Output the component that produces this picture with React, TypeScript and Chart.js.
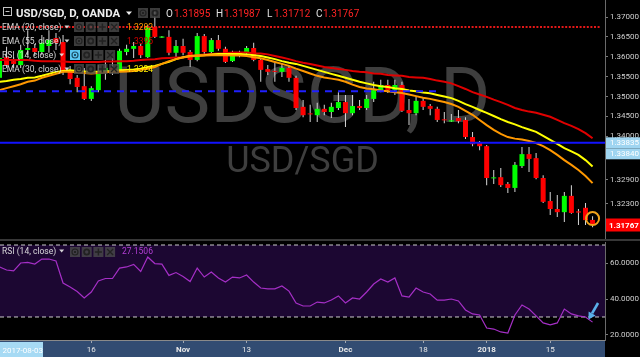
import React, { useEffect, useRef } from 'react';
import { Chart, registerables } from 'chart.js';
Chart.register(...registerables);

// ---------- data ----------
const OPEN = [
  1.3547, 1.3599, 1.3589, 1.3579, 1.3617, 1.3622, 1.3612, 1.3627, 1.3647, 1.3637,
  1.3564, 1.3547, 1.3526, 1.3494, 1.3516, 1.3562, 1.3572, 1.3567, 1.3612, 1.3620,
  1.3627, 1.3599, 1.3675, 1.3648, 1.3650, 1.3610, 1.3627, 1.3612, 1.3592, 1.3652,
  1.3612, 1.3642, 1.3620, 1.3589, 1.3610, 1.3610, 1.3622, 1.3592, 1.3569, 1.3564,
  1.3562, 1.3572, 1.3547, 1.3474, 1.3457, 1.3453, 1.3469, 1.3461, 1.3471, 1.3486,
  1.3458, 1.3476, 1.3471, 1.3494, 1.3516, 1.3529, 1.3516, 1.3529, 1.3466, 1.3458,
  1.3489, 1.3476, 1.3469, 1.3442, 1.3437, 1.3446, 1.3441, 1.3398, 1.3383, 1.3375,
  1.3294, 1.3297, 1.3280, 1.3270, 1.3325, 1.3355, 1.3345, 1.3295, 1.3237, 1.3217,
  1.3209, 1.3250, 1.3211, 1.3220, 1.31895,
];
const HIGH = [
  1.3604, 1.3625, 1.3599, 1.3630, 1.3667, 1.3632, 1.3655, 1.3667, 1.3660, 1.3655,
  1.3577, 1.3554, 1.3572, 1.3526, 1.3579, 1.3592, 1.3597, 1.3620, 1.3630, 1.3637,
  1.3632, 1.3680, 1.3720, 1.3652, 1.3667, 1.3642, 1.3645, 1.3617, 1.3660, 1.3657,
  1.3647, 1.3655, 1.3625, 1.3615, 1.3615, 1.3627, 1.3635, 1.3597, 1.3579, 1.3584,
  1.3584, 1.3577, 1.3552, 1.3491, 1.3479, 1.3484, 1.3479, 1.3484, 1.3511, 1.3504,
  1.3504, 1.3491, 1.3504, 1.3537, 1.3542, 1.3542, 1.3542, 1.3537, 1.3494, 1.3499,
  1.3499, 1.3481, 1.3474, 1.3461, 1.3456, 1.3466, 1.3448, 1.3411, 1.3388, 1.3378,
  1.3315, 1.3320, 1.3285, 1.3335, 1.3373, 1.3373, 1.3358, 1.3302, 1.3260, 1.3252,
  1.3260, 1.3277, 1.3217, 1.3232, 1.31987,
];
const LOW = [
  1.3542, 1.3572, 1.3572, 1.3572, 1.3604, 1.3602, 1.3604, 1.3610, 1.3617, 1.3554,
  1.3531, 1.3511, 1.3491, 1.3489, 1.3511, 1.3542, 1.3554, 1.3562, 1.3604, 1.3597,
  1.3597, 1.3597, 1.3647, 1.3647, 1.3604, 1.3599, 1.3604, 1.3574, 1.3589, 1.3607,
  1.3607, 1.3615, 1.3584, 1.3587, 1.3599, 1.3604, 1.3589, 1.3537, 1.3554, 1.3537,
  1.3549, 1.3537, 1.3466, 1.3448, 1.3436, 1.3436, 1.3453, 1.3446, 1.3466, 1.3423,
  1.3453, 1.3466, 1.3466, 1.3486, 1.3511, 1.3509, 1.3504, 1.3461, 1.3428, 1.3453,
  1.3466, 1.3453, 1.3436, 1.3433, 1.3436, 1.3433, 1.3393, 1.3375, 1.3365, 1.3277,
  1.3280, 1.3272, 1.3257, 1.3260, 1.3320, 1.3310, 1.3292, 1.3232, 1.3202, 1.3197,
  1.3184, 1.3205, 1.3177, 1.3177, 1.31712,
];
const CLOSE = [
  1.3597, 1.3579, 1.3582, 1.3617, 1.3622, 1.3612, 1.3635, 1.3642, 1.3635, 1.3562,
  1.3544, 1.3524, 1.3494, 1.3521, 1.3562, 1.3572, 1.3567, 1.3615, 1.3620, 1.3627,
  1.3604, 1.3675, 1.3650, 1.3651, 1.3610, 1.3627, 1.3610, 1.3592, 1.3652, 1.3612,
  1.3642, 1.3620, 1.3587, 1.3610, 1.3604, 1.3622, 1.3592, 1.3567, 1.3562, 1.3562,
  1.3572, 1.3547, 1.3471, 1.3453, 1.3455, 1.3469, 1.3461, 1.3474, 1.3486, 1.3458,
  1.3476, 1.3471, 1.3494, 1.3516, 1.3529, 1.3516, 1.3529, 1.3464, 1.3458, 1.3489,
  1.3474, 1.3469, 1.3441, 1.3440, 1.3440, 1.3438, 1.3398, 1.3380, 1.3375, 1.3295,
  1.3296, 1.3277, 1.3270, 1.3328, 1.3355, 1.3343, 1.3295, 1.3235, 1.3217, 1.3209,
  1.3250, 1.3207, 1.3208, 1.3189, 1.31767,
];
const EMA20 = [
  1.3516, 1.3521, 1.3526, 1.3531, 1.3537, 1.3540, 1.3547, 1.3552, 1.3557, 1.3562,
  1.3562, 1.3561, 1.3559, 1.3558, 1.3559, 1.3561, 1.3562, 1.3562, 1.3563, 1.3564,
  1.3567, 1.3570, 1.3574, 1.3582, 1.3589, 1.3594, 1.3598, 1.3601, 1.3602, 1.3603,
  1.3604, 1.3604, 1.3604, 1.3603, 1.3603, 1.3602, 1.3599, 1.3596, 1.3592, 1.3587,
  1.3582, 1.3577, 1.3570, 1.3564, 1.3558, 1.3552, 1.3548, 1.3545, 1.3542, 1.3537,
  1.3530, 1.3524, 1.3520, 1.3518, 1.3515, 1.3513, 1.3511, 1.3509, 1.3505, 1.3501,
  1.3497, 1.3494, 1.3490, 1.3486, 1.3481, 1.3474, 1.3464, 1.3454, 1.3441, 1.3428,
  1.3416, 1.3406, 1.3398, 1.3394, 1.3392, 1.3388, 1.3383, 1.3375, 1.3365, 1.3353,
  1.3340, 1.3328, 1.3315, 1.3300, 1.3282,
];
const EMA30 = [
  1.3537, 1.3539, 1.3542, 1.3544, 1.3547, 1.3548, 1.3552, 1.3557, 1.3562, 1.3564,
  1.3566, 1.3564, 1.3563, 1.3562, 1.3562, 1.3563, 1.3564, 1.3566, 1.3567, 1.3568,
  1.3570, 1.3574, 1.3577, 1.3582, 1.3587, 1.3594, 1.3599, 1.3602, 1.3603, 1.3604,
  1.3606, 1.3607, 1.3607, 1.3607, 1.3607, 1.3606, 1.3604, 1.3602, 1.3598, 1.3594,
  1.3589, 1.3585, 1.3582, 1.3577, 1.3572, 1.3567, 1.3562, 1.3557, 1.3552, 1.3547,
  1.3542, 1.3537, 1.3533, 1.3529, 1.3526, 1.3524, 1.3521, 1.3519, 1.3515, 1.3513,
  1.3510, 1.3508, 1.3504, 1.3500, 1.3496, 1.3489, 1.3481, 1.3474, 1.3466, 1.3459,
  1.3451, 1.3443, 1.3436, 1.3430, 1.3423, 1.3417, 1.3411, 1.3401, 1.3391, 1.3381,
  1.3370, 1.3362, 1.3353, 1.3340, 1.3324,
];
const EMA55 = [
  1.3592, 1.3592, 1.3592, 1.3592, 1.3592, 1.3590, 1.3589, 1.3589, 1.3589, 1.3588,
  1.3587, 1.3587, 1.3587, 1.3587, 1.3587, 1.3588, 1.3588, 1.3589, 1.3589, 1.3590,
  1.3592, 1.3593, 1.3594, 1.3596, 1.3597, 1.3598, 1.3599, 1.3602, 1.3604, 1.3606,
  1.3607, 1.3608, 1.3609, 1.3611, 1.3611, 1.3611, 1.3609, 1.3608, 1.3606, 1.3602,
  1.3598, 1.3594, 1.3589, 1.3585, 1.3582, 1.3578, 1.3574, 1.3572, 1.3569, 1.3567,
  1.3564, 1.3562, 1.3561, 1.3558, 1.3557, 1.3554, 1.3553, 1.3552, 1.3549, 1.3548,
  1.3547, 1.3544, 1.3540, 1.3537, 1.3533, 1.3526, 1.3519, 1.3511, 1.3505, 1.3499,
  1.3492, 1.3486, 1.3479, 1.3471, 1.3466, 1.3462, 1.3459, 1.3454, 1.3449, 1.3441,
  1.3433, 1.3426, 1.3418, 1.3408, 1.3395,
];
const RSI14 = [
  57.8, 56.1, 55.6, 60.0, 60.3, 59.4, 62.2, 62.2, 61.1, 48.9,
  46.7, 44.2, 40.6, 43.9, 50.0, 51.4, 51.4, 57.2, 57.8, 59.2,
  55.3, 63.3, 59.7, 59.4, 53.1, 54.7, 52.5, 49.7, 57.2, 52.2,
  55.0, 51.7, 49.4, 52.2, 51.7, 53.3, 49.4, 46.1, 45.6, 45.6,
  47.2, 44.4, 37.8, 36.1, 36.1, 38.3, 37.8, 39.4, 41.7, 37.8,
  40.6, 40.0, 43.9, 48.3, 51.1, 49.4, 51.7, 41.7, 41.1, 46.1,
  43.9, 42.8, 39.4, 39.4, 40.0, 38.9, 33.9, 31.7, 31.1, 23.9,
  23.3, 21.7, 21.1, 31.1, 36.7, 34.4, 30.6, 26.7, 25.6, 26.7,
  34.4, 31.7, 30.6, 30.0, 27.1506,
];
const PRICE_TICKS = [1.37, 1.365, 1.36, 1.355, 1.35, 1.345, 1.34, 1.329, 1.323];
const RSI_TICKS = [20, 40, 60];
const RSI_BANDS = [70, 30];
const TIME_TICK_INDEX = [13, 26, 35, 49, 60, 69, 78];
const TIME_TICK_LABELS = ['16', 'Nov', '13', 'Dec', '18', '2018', '15'];
const TIME_TICK_BOLD = [false, true, false, true, false, true, false];
const CURSOR_DATE = '2017-08-03';
const RED_DOTTED_LEVEL = 1.3675;
const BLUE_DASHED_LEVEL = 1.3513;
const BLUE_DASHED_END = 62;
const BLUE_LINE_LEVEL = 1.33835;
const BLUE_LABELS = ['1.33835', '1.33840'];
const MARK_INDEX = 84;
const MARK_LEVEL = 1.3193;

// ---------- geometry of the scales ----------
const X_MIN = 0.07;
const X_MAX = 85.76;
const P_MIN = 1.3144;
const P_MAX = 1.37428;
const R_MIN = 17.22;
const R_MAX = 71.67;
const FONT = 'Roboto, "Liberation Sans", Arial, sans-serif';

const IDX = OPEN.map((_, i) => i);
const last = OPEN.length - 1;

function tri(ctx: CanvasRenderingContext2D, x: number, y: number, w: number, h: number, c: string) {
  ctx.fillStyle = c;
  ctx.beginPath();
  ctx.moveTo(x, y);
  ctx.lineTo(x + w, y);
  ctx.lineTo(x + w / 2, y + h);
  ctx.closePath();
  ctx.fill();
}

function iconBox(ctx: CanvasRenderingContext2D, x: number, y: number, kind: string, hl: boolean) {
  ctx.fillStyle = hl ? '#5cc6f2' : 'rgba(75,75,75,0.8)';
  ctx.fillRect(x, y, 10, 10);
  const c = hl ? '#1d5068' : '#222222';
  ctx.strokeStyle = c;
  ctx.fillStyle = c;
  ctx.lineWidth = 1.2;
  const cx = x + 5, cy = y + 5;
  ctx.beginPath();
  if (kind === 'eye') {
    ctx.arc(cx, cy, 3, 0, Math.PI * 2);
    ctx.stroke();
    ctx.fillRect(cx - 1, cy - 1, 2, 2);
  } else if (kind === 'gear') {
    ctx.lineWidth = 1.8;
    ctx.arc(cx, cy, 2.6, 0, Math.PI * 2);
    ctx.stroke();
  } else if (kind === 'plus') {
    ctx.lineWidth = 1.5;
    ctx.moveTo(cx - 3.5, cy); ctx.lineTo(cx + 3.5, cy);
    ctx.moveTo(cx, cy - 3.5); ctx.lineTo(cx, cy + 3.5);
    ctx.stroke();
  } else {
    ctx.lineWidth = 1.3;
    ctx.moveTo(cx - 3, cy - 3); ctx.lineTo(cx + 3, cy + 3);
    ctx.moveTo(cx + 3, cy - 3); ctx.lineTo(cx - 3, cy + 3);
    ctx.stroke();
  }
}

const noPad = (s: any) => {
  s.paddingTop = 0;
  s.paddingBottom = 0;
  s.paddingLeft = 0;
  s.paddingRight = 0;
};

const mainOverlay = {
  id: 'mainOverlay',
  beforeDatasetsDraw(chart: any) {
    const ctx = chart.ctx as CanvasRenderingContext2D;
    const a = chart.chartArea;
    const cx = (a.left + a.right) / 2;
    ctx.save();
    ctx.fillStyle = '#3e3e3e';
    ctx.textAlign = 'center';
    ctx.textBaseline = 'alphabetic';
    ctx.font = `77px ${FONT}`;
    ctx.fillText('USDSGD, D', cx, 122);
    ctx.font = `36px ${FONT}`;
    ctx.fillText('USD/SGD', cx, 172);
    ctx.restore();
  },
  afterDraw(chart: any) {
    const ctx = chart.ctx as CanvasRenderingContext2D;
    const ys = chart.scales.y;
    ctx.save();
    ctx.textBaseline = 'alphabetic';
    ctx.textAlign = 'left';
    // header
    ctx.strokeStyle = '#c4c4c4';
    ctx.lineWidth = 1;
    ctx.strokeRect(3.5, 7.5, 8, 8);
    ctx.beginPath(); ctx.moveTo(5.5, 11.5); ctx.lineTo(9.5, 11.5); ctx.stroke();
    ctx.font = `bold 11.4px ${FONT}`;
    ctx.fillStyle = '#ededed';
    ctx.fillText('USD/SGD, D, OANDA', 16, 17);
    tri(ctx, 126, 11.5, 6, 3.5, '#ededed');
    iconBox(ctx, 138, 8, 'eye', false);
    iconBox(ctx, 150, 8, 'gear', false);
    ctx.font = `10px ${FONT}`;
    const ohlc: [string, number, number, number][] = [
      ['O', 166, 174, OPEN[last]], ['H', 216, 224, HIGH[last]],
      ['L', 267, 274, LOW[last]], ['C', 316, 323, CLOSE[last]],
    ];
    ohlc.forEach(([k, xk, xv, v]) => {
      ctx.fillStyle = '#e2e2e2';
      ctx.fillText(k, xk, 17);
      ctx.fillStyle = '#ff2424';
      ctx.fillText(v.toFixed(5), xv, 17);
    });
    // study legend rows
    const rows = [
      { label: 'EMA (20, close)', value: EMA20[last].toFixed(4), color: '#ff9a00', x0: 74, hl: false },
      { label: 'EMA (55, close)', value: EMA55[last].toFixed(4), color: '#d80000', x0: 74, hl: false },
      { label: 'RSI (14, close)', value: '', color: '#fff', x0: 70, hl: true },
      { label: 'EMA (30, close)', value: EMA30[last].toFixed(4), color: '#ffee00', x0: 74, hl: false },
    ];
    rows.forEach((r, k) => {
      const base = 30 + k * 14;
      ctx.font = `8.5px ${FONT}`;
      ctx.fillStyle = 'rgba(228,228,228,0.92)';
      ctx.fillText(r.label, 2, base);
      const w = ctx.measureText(r.label).width;
      tri(ctx, 2 + w + 3, base - 4.5, 5, 3, 'rgba(228,228,228,0.92)');
      ['eye', 'gear', 'plus', 'x'].forEach((kind, j) => {
        iconBox(ctx, r.x0 + j * 11.7, base - 8, kind, r.hl && j === 0);
      });
      if (r.value) {
        ctx.font = `8.5px ${FONT}`;
        ctx.fillStyle = r.color;
        ctx.fillText(r.value, 127, base);
      }
    });
    // price-axis labels
    const yb = ys.getPixelForValue(BLUE_LINE_LEVEL);
    ctx.font = `8px ${FONT}`;
    ctx.textBaseline = 'middle';
    BLUE_LABELS.forEach((t, k) => {
      const top = yb - 5.5 + k * 11;
      ctx.fillStyle = '#9fd5f1';
      ctx.fillRect(606, top, 34, 11);
      ctx.fillStyle = '#ffffff';
      ctx.fillText(t, 610, top + 5.7);
    });
    const yl = ys.getPixelForValue(CLOSE[last]);
    ctx.fillStyle = '#ff0000';
    ctx.fillRect(606, yl - 6.5, 34, 13);
    ctx.fillStyle = '#ffffff';
    ctx.font = `bold 8px ${FONT}`;
    ctx.fillText(CLOSE[last].toFixed(5), 609, yl + 0.5);
    ctx.restore();
  },
};

const rsiOverlay = {
  id: 'rsiOverlay',
  beforeDraw(chart: any) {
    const ctx = chart.ctx as CanvasRenderingContext2D;
    const a = chart.chartArea;
    ctx.save();
    ctx.fillStyle = '#373737';
    ctx.fillRect(0, 0, chart.width, 2);
    ctx.fillStyle = '#324c72';
    ctx.fillRect(0, a.bottom, a.right, chart.height - a.bottom);
    ctx.restore();
  },
  beforeDatasetsDraw(chart: any) {
    const ctx = chart.ctx as CanvasRenderingContext2D;
    const a = chart.chartArea;
    const y = chart.scales.y;
    const y1 = y.getPixelForValue(RSI_BANDS[0]);
    const y2 = y.getPixelForValue(RSI_BANDS[1]);
    ctx.save();
    ctx.fillStyle = '#1c0732';
    ctx.fillRect(a.left, y1, a.right - a.left, y2 - y1);
    ctx.restore();
  },
  afterDraw(chart: any) {
    const ctx = chart.ctx as CanvasRenderingContext2D;
    const a = chart.chartArea;
    ctx.save();
    ctx.textAlign = 'left';
    ctx.textBaseline = 'alphabetic';
    ctx.font = `8.5px ${FONT}`;
    ctx.fillStyle = 'rgba(228,228,228,0.92)';
    const lbl = 'RSI (14, close)';
    ctx.fillText(lbl, 2, 15);
    const w = ctx.measureText(lbl).width;
    tri(ctx, 2 + w + 3, 10.5, 5, 3, 'rgba(228,228,228,0.92)');
    ['eye', 'gear', 'plus', 'x'].forEach((kind, j) => iconBox(ctx, 70 + j * 11.7, 8, kind, false));
    ctx.fillStyle = '#b43fd6';
    ctx.fillText(RSI14[last].toFixed(4), 122, 15);
    // cursor date box on time axis
    ctx.fillStyle = '#a6daf4';
    ctx.fillRect(0, a.bottom + 2, 43, chart.height - a.bottom - 2);
    ctx.fillStyle = '#ffffff';
    ctx.font = `8px ${FONT}`;
    ctx.fillText(CURSOR_DATE, 2.5, a.bottom + 12.5);
    // arrow annotation
    const tx = chart.scales.x.getPixelForValue(MARK_INDEX) - 4;
    const ty = chart.scales.y.getPixelForValue(RSI_BANDS[1]) + 2.5;
    const sx = tx + 9.5, sy = ty - 16.5;
    const len = Math.hypot(tx - sx, ty - sy);
    const dx = (tx - sx) / len, dy = (ty - sy) / len;
    const bx = tx - dx * 7, by = ty - dy * 7;
    ctx.strokeStyle = '#5ab0ea';
    ctx.fillStyle = '#5ab0ea';
    ctx.lineWidth = 2.6;
    ctx.beginPath(); ctx.moveTo(sx, sy); ctx.lineTo(bx, by); ctx.stroke();
    ctx.beginPath();
    ctx.moveTo(tx, ty);
    ctx.lineTo(bx - dy * 4, by + dx * 4);
    ctx.lineTo(bx + dy * 4, by - dx * 4);
    ctx.closePath();
    ctx.fill();
    ctx.restore();
  },
};

function mainConfig(): any {
  const bodyColors = IDX.map((i) => (CLOSE[i] >= OPEN[i] ? '#00ff00' : '#ff0000'));
  const pts = (arr: number[]) => arr.map((v, i) => ({ x: i, y: v }));
  return {
    type: 'bar',
    data: {
      datasets: [
        { type: 'bar', data: IDX.map((i) => ({ x: i, y: [LOW[i], HIGH[i]] })), backgroundColor: '#d6d6d6', maxBarThickness: 1, grouped: false, borderWidth: 0, order: 10 },
        { type: 'bar', data: IDX.map((i) => ({ x: i, y: [OPEN[i], CLOSE[i]] })), backgroundColor: bodyColors, maxBarThickness: 5, grouped: false, minBarLength: 1, borderWidth: 0, order: 9 },
        { type: 'line', data: pts(EMA55), borderColor: '#e00000', borderWidth: 2, pointRadius: 0, tension: 0, order: 8 },
        { type: 'line', data: pts(EMA30), borderColor: '#ffff00', borderWidth: 2, pointRadius: 0, tension: 0, order: 7 },
        { type: 'line', data: pts(EMA20), borderColor: '#ff9800', borderWidth: 2, pointRadius: 0, tension: 0, order: 6 },
        { type: 'line', data: [{ x: X_MIN, y: RED_DOTTED_LEVEL }, { x: 85.06, y: RED_DOTTED_LEVEL }], borderColor: '#e31818', borderWidth: 2, borderDash: [2, 1.6], pointRadius: 0, order: 5 },
        { type: 'line', data: [{ x: X_MIN, y: BLUE_DASHED_LEVEL }, { x: BLUE_DASHED_END, y: BLUE_DASHED_LEVEL }], borderColor: '#2020ff', borderWidth: 2, borderDash: [7, 6], pointRadius: 0, order: 4 },
        { type: 'line', data: [{ x: X_MIN, y: BLUE_LINE_LEVEL }, { x: X_MAX, y: BLUE_LINE_LEVEL }], borderColor: '#1212ff', borderWidth: 2, pointRadius: 0, order: 3 },
        { type: 'line', data: [{ x: MARK_INDEX, y: MARK_LEVEL }], showLine: false, pointRadius: 6.5, pointBorderWidth: 2, pointBorderColor: '#f2a51c', pointBackgroundColor: 'rgba(0,0,0,0)', order: 1 },
      ],
    },
    options: {
      responsive: false,
      animation: false,
      devicePixelRatio: 1,
      events: [],
      layout: { autoPadding: false, padding: { left: 0, right: 0, top: 0, bottom: 1 } },
      plugins: { legend: { display: false }, tooltip: { enabled: false } },
      scales: {
        x: { type: 'linear', min: X_MIN, max: X_MAX, offset: false, display: false, grid: { offset: false }, afterFit: noPad },
        y: {
          type: 'linear', position: 'right', min: P_MIN, max: P_MAX, beginAtZero: false,
          afterFit: (s: any) => { s.width = 35; noPad(s); },
          afterBuildTicks: (s: any) => { s.ticks = PRICE_TICKS.map((v) => ({ value: v })); },
          ticks: { callback: (v: any) => Number(v).toFixed(5), color: '#cfcfcf', font: { family: FONT, size: 8 }, padding: 2, autoSkip: false },
          grid: { drawOnChartArea: false, drawTicks: true, tickLength: 3, color: '#7a7a7a' },
          border: { display: true, color: '#6a6a6a', width: 1 },
        },
      },
    },
    plugins: [mainOverlay],
  };
}

function rsiConfig(): any {
  const flat = (v: number) => [{ x: X_MIN, y: v }, { x: X_MAX, y: v }];
  return {
    type: 'line',
    data: {
      datasets: [
        { data: RSI14.map((v, i) => ({ x: i, y: v })), borderColor: '#a52fc6', borderWidth: 1.2, pointRadius: 0, tension: 0, order: 1 },
        { data: flat(RSI_BANDS[0]), borderColor: 'rgba(225,225,225,0.9)', borderWidth: 1, borderDash: [4, 3], pointRadius: 0, order: 2 },
        { data: flat(RSI_BANDS[1]), borderColor: 'rgba(225,225,225,0.9)', borderWidth: 1, borderDash: [4, 3], pointRadius: 0, order: 3 },
      ],
    },
    options: {
      responsive: false,
      animation: false,
      devicePixelRatio: 1,
      events: [],
      layout: { autoPadding: false, padding: { left: 0, right: 0, top: 3, bottom: 0 } },
      plugins: { legend: { display: false }, tooltip: { enabled: false } },
      scales: {
        x: {
          type: 'linear', min: X_MIN, max: X_MAX, offset: false, position: 'bottom',
          afterFit: (s: any) => { s.height = 17; noPad(s); },
          afterBuildTicks: (s: any) => { s.ticks = TIME_TICK_INDEX.map((v) => ({ value: v })); },
          ticks: {
            callback: (_v: any, i: number) => TIME_TICK_LABELS[i],
            color: '#e8e8e8',
            font: (c: any) => ({ family: FONT, size: 8, weight: TIME_TICK_BOLD[c.index] ? 'bold' : 'normal' }),
            maxRotation: 0, minRotation: 0, autoSkip: false, padding: 2,
          },
          grid: { drawOnChartArea: false, drawTicks: true, tickLength: 3, color: 'rgba(210,210,210,0.7)', offset: false },
          border: { display: true, color: '#8a8a8a', width: 1 },
        },
        y: {
          type: 'linear', position: 'right', min: R_MIN, max: R_MAX,
          afterFit: (s: any) => { s.width = 35; noPad(s); },
          afterBuildTicks: (s: any) => { s.ticks = RSI_TICKS.map((v) => ({ value: v })); },
          ticks: { callback: (v: any) => Number(v).toFixed(4), color: '#cfcfcf', font: { family: FONT, size: 8 }, padding: 2, autoSkip: false },
          grid: { drawOnChartArea: false, drawTicks: true, tickLength: 3, color: '#7a7a7a' },
          border: { display: true, color: '#6a6a6a', width: 1 },
        },
      },
    },
    plugins: [rsiOverlay],
  };
}

export default function App() {
  const mainRef = useRef<HTMLCanvasElement>(null);
  const rsiRef = useRef<HTMLCanvasElement>(null);
  useEffect(() => {
    document.body.style.margin = '0';
    document.body.style.background = '#000';
    const main = new Chart(mainRef.current as HTMLCanvasElement, mainConfig());
    const rsi = new Chart(rsiRef.current as HTMLCanvasElement, rsiConfig());
    return () => {
      main.destroy();
      rsi.destroy();
    };
  }, []);
  return (
    <div style={{ position: 'relative', width: 640, height: 357, background: '#000', overflow: 'hidden' }}>
      <canvas ref={mainRef} width={640} height={239} style={{ position: 'absolute', left: 0, top: 0, width: 640, height: 239 }} />
      <canvas ref={rsiRef} width={640} height={118} style={{ position: 'absolute', left: 0, top: 239, width: 640, height: 118 }} />
    </div>
  );
}
